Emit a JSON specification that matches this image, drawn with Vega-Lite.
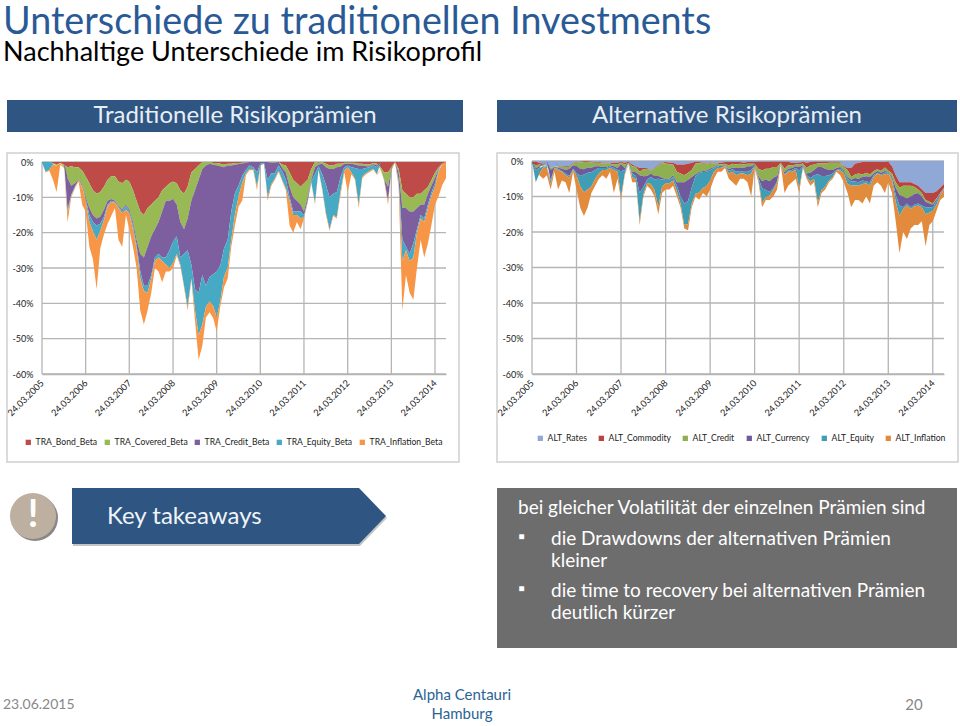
{"$schema":"https://vega.github.io/schema/vega-lite/v6.json","padding":{"left":3,"top":4,"right":0,"bottom":0},"background":"white","config":{"view":{"stroke":null},"font":"Lato"},
"title":{"text":"Unterschiede zu traditionellen Investments","subtitle":"Nachhaltige Unterschiede im Risikoprofil","anchor":"start","frame":"group","font":"Lato","fontWeight":"normal","fontSize":37.7,"color":"#2a5a96","subtitleFont":"Lato","subtitleFontSize":27,"subtitleColor":"#000000","subtitlePadding":-2,"offset":34,"dx":-4},
"bounds":"flush","columns":2,"spacing":{"row":21,"column":34},
"resolve":{"scale":{"color":"independent","x":"independent","y":"independent"},"legend":{"color":"independent"},"axis":{"x":"independent","y":"independent"}},
"concat":[
  {"width":456,"height":32,"view":{"fill":"#2f5583","stroke":null},"data":{"values":[{"t":"Traditionelle Risikoprämien"}]},"mark":{"type":"text","fontSize":24,"color":"#e8eef5","font":"Lato"},"encoding":{"text":{"field":"t"}}},
  {"width":460,"height":32,"view":{"fill":"#2f5583","stroke":null},"data":{"values":[{"t":"Alternative Risikoprämien"}]},"mark":{"type":"text","fontSize":24,"color":"#e8eef5","font":"Lato"},"encoding":{"text":{"field":"t"}}},
  {"width":452,"height":309,"view":{"stroke":"#cfcfcf","strokeWidth":1.5},"layer":[
   {"data":{"values":[{"date":"2005-03-24","top":0,"bottom":-60},{"date":"2006-03-24","top":0,"bottom":-60},{"date":"2007-03-24","top":0,"bottom":-60},{"date":"2008-03-24","top":0,"bottom":-60},{"date":"2009-03-24","top":0,"bottom":-60},{"date":"2010-03-24","top":0,"bottom":-60},{"date":"2011-03-24","top":0,"bottom":-60},{"date":"2012-03-24","top":0,"bottom":-60},{"date":"2013-03-24","top":0,"bottom":-60},{"date":"2014-03-24","top":0,"bottom":-60}]},"mark":{"type":"rule","color":"#b5b5b5","strokeWidth":1.3},"encoding":{"x":{"field":"date","type":"temporal"},"y":{"field":"top","type":"quantitative"},"y2":{"field":"bottom"}}},
   {"data":{"values":[{"pct":0,"from":"2005-03-24","to":"2014-06-24"},{"pct":-10,"from":"2005-03-24","to":"2014-06-24"},{"pct":-20,"from":"2005-03-24","to":"2014-06-24"},{"pct":-30,"from":"2005-03-24","to":"2014-06-24"},{"pct":-40,"from":"2005-03-24","to":"2014-06-24"},{"pct":-50,"from":"2005-03-24","to":"2014-06-24"},{"pct":-60,"from":"2005-03-24","to":"2014-06-24"}]},"mark":{"type":"rule","color":"#b5b5b5","strokeWidth":1.3},"encoding":{"x":{"field":"from","type":"temporal"},"x2":{"field":"to"},"y":{"field":"pct","type":"quantitative"}}},
   {"data":{"values":[
{"date":"2005-03-24","TRA_Bond_Beta":0,"TRA_Covered_Beta":0,"TRA_Credit_Beta":0,"TRA_Equity_Beta":-0.2,"TRA_Inflation_Beta":0},
{"date":"2005-04-24","TRA_Bond_Beta":0,"TRA_Covered_Beta":0,"TRA_Credit_Beta":0,"TRA_Equity_Beta":-2.8,"TRA_Inflation_Beta":-0.2},
{"date":"2005-05-24","TRA_Bond_Beta":0,"TRA_Covered_Beta":0,"TRA_Credit_Beta":0,"TRA_Equity_Beta":-2.2,"TRA_Inflation_Beta":-0.3},
{"date":"2005-06-24","TRA_Bond_Beta":-0.3,"TRA_Covered_Beta":-0.2,"TRA_Credit_Beta":0,"TRA_Equity_Beta":-0.3,"TRA_Inflation_Beta":-4.2},
{"date":"2005-07-24","TRA_Bond_Beta":-0.8,"TRA_Covered_Beta":-0.2,"TRA_Credit_Beta":0,"TRA_Equity_Beta":0,"TRA_Inflation_Beta":-7.5},
{"date":"2005-08-24","TRA_Bond_Beta":-0.3,"TRA_Covered_Beta":0,"TRA_Credit_Beta":0,"TRA_Equity_Beta":0,"TRA_Inflation_Beta":-0.5},
{"date":"2005-09-24","TRA_Bond_Beta":-0.8,"TRA_Covered_Beta":-0.7,"TRA_Credit_Beta":0,"TRA_Equity_Beta":0,"TRA_Inflation_Beta":-0.2},
{"date":"2005-10-24","TRA_Bond_Beta":-1.5,"TRA_Covered_Beta":-3,"TRA_Credit_Beta":-9,"TRA_Equity_Beta":-1,"TRA_Inflation_Beta":-2.5},
{"date":"2005-11-24","TRA_Bond_Beta":-1.2,"TRA_Covered_Beta":-5.5,"TRA_Credit_Beta":-2.5,"TRA_Equity_Beta":-0.3,"TRA_Inflation_Beta":-0.5},
{"date":"2005-12-24","TRA_Bond_Beta":-1.5,"TRA_Covered_Beta":-4.5,"TRA_Credit_Beta":-1,"TRA_Equity_Beta":-0.2,"TRA_Inflation_Beta":-0.3},
{"date":"2006-01-24","TRA_Bond_Beta":-1.5,"TRA_Covered_Beta":-3.5,"TRA_Credit_Beta":-0.2,"TRA_Equity_Beta":0,"TRA_Inflation_Beta":-0.3},
{"date":"2006-02-24","TRA_Bond_Beta":-2.5,"TRA_Covered_Beta":-4,"TRA_Credit_Beta":-0.5,"TRA_Equity_Beta":-0.2,"TRA_Inflation_Beta":-5},
{"date":"2006-03-24","TRA_Bond_Beta":-4,"TRA_Covered_Beta":-6,"TRA_Credit_Beta":-0.5,"TRA_Equity_Beta":-0.5,"TRA_Inflation_Beta":-3},
{"date":"2006-04-24","TRA_Bond_Beta":-6,"TRA_Covered_Beta":-7,"TRA_Credit_Beta":-2,"TRA_Equity_Beta":-2,"TRA_Inflation_Beta":-7},
{"date":"2006-05-24","TRA_Bond_Beta":-8,"TRA_Covered_Beta":-7,"TRA_Credit_Beta":-2,"TRA_Equity_Beta":-2.5,"TRA_Inflation_Beta":-8},
{"date":"2006-06-24","TRA_Bond_Beta":-9,"TRA_Covered_Beta":-7,"TRA_Credit_Beta":-2,"TRA_Equity_Beta":-4,"TRA_Inflation_Beta":-14},
{"date":"2006-07-24","TRA_Bond_Beta":-8.5,"TRA_Covered_Beta":-7,"TRA_Credit_Beta":-2,"TRA_Equity_Beta":-2,"TRA_Inflation_Beta":-5},
{"date":"2006-08-24","TRA_Bond_Beta":-7,"TRA_Covered_Beta":-6.5,"TRA_Credit_Beta":-2,"TRA_Equity_Beta":-1,"TRA_Inflation_Beta":-4},
{"date":"2006-09-24","TRA_Bond_Beta":-5,"TRA_Covered_Beta":-6,"TRA_Credit_Beta":-1,"TRA_Equity_Beta":-0.5,"TRA_Inflation_Beta":-5},
{"date":"2006-10-24","TRA_Bond_Beta":-4,"TRA_Covered_Beta":-6.5,"TRA_Credit_Beta":-0.5,"TRA_Equity_Beta":-0.3,"TRA_Inflation_Beta":-4},
{"date":"2006-11-24","TRA_Bond_Beta":-4,"TRA_Covered_Beta":-7,"TRA_Credit_Beta":-0.3,"TRA_Equity_Beta":-0.2,"TRA_Inflation_Beta":-1.5},
{"date":"2006-12-24","TRA_Bond_Beta":-5.5,"TRA_Covered_Beta":-7,"TRA_Credit_Beta":-0.3,"TRA_Equity_Beta":-0.3,"TRA_Inflation_Beta":-9},
{"date":"2007-01-24","TRA_Bond_Beta":-6,"TRA_Covered_Beta":-7.5,"TRA_Credit_Beta":-0.5,"TRA_Equity_Beta":-0.5,"TRA_Inflation_Beta":-9.5},
{"date":"2007-02-24","TRA_Bond_Beta":-5,"TRA_Covered_Beta":-7,"TRA_Credit_Beta":-0.5,"TRA_Equity_Beta":-1,"TRA_Inflation_Beta":-1.5},
{"date":"2007-03-24","TRA_Bond_Beta":-5.5,"TRA_Covered_Beta":-8,"TRA_Credit_Beta":-0.5,"TRA_Equity_Beta":-0.5,"TRA_Inflation_Beta":-4.5},
{"date":"2007-04-24","TRA_Bond_Beta":-8,"TRA_Covered_Beta":-9,"TRA_Credit_Beta":-1,"TRA_Equity_Beta":-1,"TRA_Inflation_Beta":-5},
{"date":"2007-05-24","TRA_Bond_Beta":-11,"TRA_Covered_Beta":-11,"TRA_Credit_Beta":-1.5,"TRA_Equity_Beta":-1,"TRA_Inflation_Beta":-5.5},
{"date":"2007-06-24","TRA_Bond_Beta":-14,"TRA_Covered_Beta":-12,"TRA_Credit_Beta":-5,"TRA_Equity_Beta":-2,"TRA_Inflation_Beta":-9},
{"date":"2007-07-24","TRA_Bond_Beta":-15,"TRA_Covered_Beta":-12,"TRA_Credit_Beta":-8,"TRA_Equity_Beta":-1.5,"TRA_Inflation_Beta":-9.5},
{"date":"2007-08-24","TRA_Bond_Beta":-13,"TRA_Covered_Beta":-11,"TRA_Credit_Beta":-11,"TRA_Equity_Beta":-2,"TRA_Inflation_Beta":-5},
{"date":"2007-09-24","TRA_Bond_Beta":-12,"TRA_Covered_Beta":-9,"TRA_Credit_Beta":-11,"TRA_Equity_Beta":-1,"TRA_Inflation_Beta":-4},
{"date":"2007-10-24","TRA_Bond_Beta":-11,"TRA_Covered_Beta":-8,"TRA_Credit_Beta":-8,"TRA_Equity_Beta":-1,"TRA_Inflation_Beta":-2},
{"date":"2007-11-24","TRA_Bond_Beta":-10,"TRA_Covered_Beta":-7,"TRA_Credit_Beta":-9,"TRA_Equity_Beta":-1,"TRA_Inflation_Beta":-4},
{"date":"2007-12-24","TRA_Bond_Beta":-8,"TRA_Covered_Beta":-6,"TRA_Credit_Beta":-13,"TRA_Equity_Beta":-1,"TRA_Inflation_Beta":-6},
{"date":"2008-01-24","TRA_Bond_Beta":-7,"TRA_Covered_Beta":-4,"TRA_Credit_Beta":-16,"TRA_Equity_Beta":-2,"TRA_Inflation_Beta":-2},
{"date":"2008-02-24","TRA_Bond_Beta":-6,"TRA_Covered_Beta":-5,"TRA_Credit_Beta":-14,"TRA_Equity_Beta":-5,"TRA_Inflation_Beta":-1},
{"date":"2008-03-24","TRA_Bond_Beta":-5.5,"TRA_Covered_Beta":-5,"TRA_Credit_Beta":-12,"TRA_Equity_Beta":-6,"TRA_Inflation_Beta":-1.5},
{"date":"2008-04-24","TRA_Bond_Beta":-6,"TRA_Covered_Beta":-6,"TRA_Credit_Beta":-9,"TRA_Equity_Beta":-5,"TRA_Inflation_Beta":-0.5},
{"date":"2008-05-24","TRA_Bond_Beta":-8,"TRA_Covered_Beta":-9,"TRA_Credit_Beta":-10,"TRA_Equity_Beta":-2,"TRA_Inflation_Beta":-0.5},
{"date":"2008-06-24","TRA_Bond_Beta":-9,"TRA_Covered_Beta":-10,"TRA_Credit_Beta":-7,"TRA_Equity_Beta":-9,"TRA_Inflation_Beta":-0.5},
{"date":"2008-07-24","TRA_Bond_Beta":-7,"TRA_Covered_Beta":-9,"TRA_Credit_Beta":-9,"TRA_Equity_Beta":-16,"TRA_Inflation_Beta":-1},
{"date":"2008-08-24","TRA_Bond_Beta":-3,"TRA_Covered_Beta":-8,"TRA_Credit_Beta":-18,"TRA_Equity_Beta":-4,"TRA_Inflation_Beta":-0.3},
{"date":"2008-09-24","TRA_Bond_Beta":-2,"TRA_Covered_Beta":-6,"TRA_Credit_Beta":-28,"TRA_Equity_Beta":-6,"TRA_Inflation_Beta":-3},
{"date":"2008-10-24","TRA_Bond_Beta":-1,"TRA_Covered_Beta":-4,"TRA_Credit_Beta":-32,"TRA_Equity_Beta":-12,"TRA_Inflation_Beta":-7},
{"date":"2008-11-24","TRA_Bond_Beta":0,"TRA_Covered_Beta":-2,"TRA_Credit_Beta":-30,"TRA_Equity_Beta":-14,"TRA_Inflation_Beta":-6},
{"date":"2008-12-24","TRA_Bond_Beta":0,"TRA_Covered_Beta":-1,"TRA_Credit_Beta":-34,"TRA_Equity_Beta":-6,"TRA_Inflation_Beta":-3},
{"date":"2009-01-24","TRA_Bond_Beta":0,"TRA_Covered_Beta":-0.5,"TRA_Credit_Beta":-32,"TRA_Equity_Beta":-7,"TRA_Inflation_Beta":-3},
{"date":"2009-02-24","TRA_Bond_Beta":-0.3,"TRA_Covered_Beta":-0.5,"TRA_Credit_Beta":-31,"TRA_Equity_Beta":-9,"TRA_Inflation_Beta":-3.5},
{"date":"2009-03-24","TRA_Bond_Beta":-0.3,"TRA_Covered_Beta":-0.7,"TRA_Credit_Beta":-30,"TRA_Equity_Beta":-13,"TRA_Inflation_Beta":-4},
{"date":"2009-04-24","TRA_Bond_Beta":-0.5,"TRA_Covered_Beta":-0.7,"TRA_Credit_Beta":-28,"TRA_Equity_Beta":-10,"TRA_Inflation_Beta":-1.5},
{"date":"2009-05-24","TRA_Bond_Beta":-0.8,"TRA_Covered_Beta":-0.7,"TRA_Credit_Beta":-23,"TRA_Equity_Beta":-8,"TRA_Inflation_Beta":-3},
{"date":"2009-06-24","TRA_Bond_Beta":-0.5,"TRA_Covered_Beta":-0.5,"TRA_Credit_Beta":-21,"TRA_Equity_Beta":-8,"TRA_Inflation_Beta":-3},
{"date":"2009-07-24","TRA_Bond_Beta":-0.5,"TRA_Covered_Beta":-0.5,"TRA_Credit_Beta":-13,"TRA_Equity_Beta":-8,"TRA_Inflation_Beta":-2},
{"date":"2009-08-24","TRA_Bond_Beta":-0.3,"TRA_Covered_Beta":-0.5,"TRA_Credit_Beta":-8,"TRA_Equity_Beta":-6,"TRA_Inflation_Beta":-3},
{"date":"2009-09-24","TRA_Bond_Beta":-0.3,"TRA_Covered_Beta":-0.3,"TRA_Credit_Beta":-6,"TRA_Equity_Beta":-3,"TRA_Inflation_Beta":-3},
{"date":"2009-10-24","TRA_Bond_Beta":-0.2,"TRA_Covered_Beta":-0.2,"TRA_Credit_Beta":-3.5,"TRA_Equity_Beta":-2,"TRA_Inflation_Beta":-5},
{"date":"2009-11-24","TRA_Bond_Beta":-0.1,"TRA_Covered_Beta":-0.1,"TRA_Credit_Beta":-2,"TRA_Equity_Beta":-1,"TRA_Inflation_Beta":-0.5},
{"date":"2009-12-24","TRA_Bond_Beta":0,"TRA_Covered_Beta":0,"TRA_Credit_Beta":-1,"TRA_Equity_Beta":-1,"TRA_Inflation_Beta":-0.3},
{"date":"2010-01-24","TRA_Bond_Beta":0,"TRA_Covered_Beta":0,"TRA_Credit_Beta":-1.5,"TRA_Equity_Beta":-0.5,"TRA_Inflation_Beta":-0.3},
{"date":"2010-02-24","TRA_Bond_Beta":0,"TRA_Covered_Beta":0,"TRA_Credit_Beta":-3,"TRA_Equity_Beta":-4,"TRA_Inflation_Beta":-1},
{"date":"2010-03-24","TRA_Bond_Beta":0,"TRA_Covered_Beta":0,"TRA_Credit_Beta":-0.5,"TRA_Equity_Beta":-0.5,"TRA_Inflation_Beta":-0.2},
{"date":"2010-04-24","TRA_Bond_Beta":0,"TRA_Covered_Beta":0,"TRA_Credit_Beta":-0.3,"TRA_Equity_Beta":-0.2,"TRA_Inflation_Beta":0},
{"date":"2010-05-24","TRA_Bond_Beta":0,"TRA_Covered_Beta":0,"TRA_Credit_Beta":-5,"TRA_Equity_Beta":-5,"TRA_Inflation_Beta":-1},
{"date":"2010-06-24","TRA_Bond_Beta":0,"TRA_Covered_Beta":-0.2,"TRA_Credit_Beta":-3,"TRA_Equity_Beta":-3,"TRA_Inflation_Beta":-0.5},
{"date":"2010-07-24","TRA_Bond_Beta":0,"TRA_Covered_Beta":-0.2,"TRA_Credit_Beta":-3,"TRA_Equity_Beta":-1.5,"TRA_Inflation_Beta":-0.3},
{"date":"2010-08-24","TRA_Bond_Beta":0,"TRA_Covered_Beta":0,"TRA_Credit_Beta":-1,"TRA_Equity_Beta":-1.5,"TRA_Inflation_Beta":-0.3},
{"date":"2010-09-24","TRA_Bond_Beta":-0.7,"TRA_Covered_Beta":-1,"TRA_Credit_Beta":-1,"TRA_Equity_Beta":-2.5,"TRA_Inflation_Beta":-0.3},
{"date":"2010-10-24","TRA_Bond_Beta":-1,"TRA_Covered_Beta":-2,"TRA_Credit_Beta":-2,"TRA_Equity_Beta":-2.5,"TRA_Inflation_Beta":-0.5},
{"date":"2010-11-24","TRA_Bond_Beta":-3,"TRA_Covered_Beta":-4,"TRA_Credit_Beta":-3,"TRA_Equity_Beta":-1,"TRA_Inflation_Beta":-7},
{"date":"2010-12-24","TRA_Bond_Beta":-5,"TRA_Covered_Beta":-5,"TRA_Credit_Beta":-4,"TRA_Equity_Beta":-1,"TRA_Inflation_Beta":-5},
{"date":"2011-01-24","TRA_Bond_Beta":-6,"TRA_Covered_Beta":-5,"TRA_Credit_Beta":-3,"TRA_Equity_Beta":-1,"TRA_Inflation_Beta":-2},
{"date":"2011-02-24","TRA_Bond_Beta":-7,"TRA_Covered_Beta":-5,"TRA_Credit_Beta":-2,"TRA_Equity_Beta":-2,"TRA_Inflation_Beta":-3},
{"date":"2011-03-24","TRA_Bond_Beta":-6,"TRA_Covered_Beta":-8,"TRA_Credit_Beta":-1,"TRA_Equity_Beta":-0.5,"TRA_Inflation_Beta":-0.5},
{"date":"2011-04-24","TRA_Bond_Beta":-5,"TRA_Covered_Beta":-5,"TRA_Credit_Beta":-1,"TRA_Equity_Beta":-0.3,"TRA_Inflation_Beta":-0.2},
{"date":"2011-05-24","TRA_Bond_Beta":-2,"TRA_Covered_Beta":-3,"TRA_Credit_Beta":-0.5,"TRA_Equity_Beta":-0.2,"TRA_Inflation_Beta":-0.1},
{"date":"2011-06-24","TRA_Bond_Beta":0,"TRA_Covered_Beta":-1.5,"TRA_Credit_Beta":-2,"TRA_Equity_Beta":-8,"TRA_Inflation_Beta":-0.5},
{"date":"2011-07-24","TRA_Bond_Beta":-0.2,"TRA_Covered_Beta":-0.5,"TRA_Credit_Beta":-0.5,"TRA_Equity_Beta":-1,"TRA_Inflation_Beta":-0.1},
{"date":"2011-08-24","TRA_Bond_Beta":0,"TRA_Covered_Beta":-0.5,"TRA_Credit_Beta":-3,"TRA_Equity_Beta":-4,"TRA_Inflation_Beta":-0.5},
{"date":"2011-09-24","TRA_Bond_Beta":-0.5,"TRA_Covered_Beta":-1,"TRA_Credit_Beta":-5,"TRA_Equity_Beta":-8,"TRA_Inflation_Beta":-0.5},
{"date":"2011-10-24","TRA_Bond_Beta":-1,"TRA_Covered_Beta":-1,"TRA_Credit_Beta":-8,"TRA_Equity_Beta":-9,"TRA_Inflation_Beta":-0.5},
{"date":"2011-11-24","TRA_Bond_Beta":-1,"TRA_Covered_Beta":-1,"TRA_Credit_Beta":-7,"TRA_Equity_Beta":-6,"TRA_Inflation_Beta":-0.3},
{"date":"2011-12-24","TRA_Bond_Beta":-0.5,"TRA_Covered_Beta":-1,"TRA_Credit_Beta":-7,"TRA_Equity_Beta":-7,"TRA_Inflation_Beta":-0.5},
{"date":"2012-01-24","TRA_Bond_Beta":-0.5,"TRA_Covered_Beta":-0.8,"TRA_Credit_Beta":-3,"TRA_Equity_Beta":-4,"TRA_Inflation_Beta":-1},
{"date":"2012-02-24","TRA_Bond_Beta":-0.2,"TRA_Covered_Beta":-0.3,"TRA_Credit_Beta":-1,"TRA_Equity_Beta":-1,"TRA_Inflation_Beta":-0.5},
{"date":"2012-03-24","TRA_Bond_Beta":-0.2,"TRA_Covered_Beta":-0.3,"TRA_Credit_Beta":-0.5,"TRA_Equity_Beta":-0.5,"TRA_Inflation_Beta":-7},
{"date":"2012-04-24","TRA_Bond_Beta":-0.2,"TRA_Covered_Beta":-0.3,"TRA_Credit_Beta":-1,"TRA_Equity_Beta":-1.5,"TRA_Inflation_Beta":-0.5},
{"date":"2012-05-24","TRA_Bond_Beta":-0.2,"TRA_Covered_Beta":-0.5,"TRA_Credit_Beta":-1,"TRA_Equity_Beta":-3,"TRA_Inflation_Beta":-0.3},
{"date":"2012-06-24","TRA_Bond_Beta":-0.5,"TRA_Covered_Beta":-0.5,"TRA_Credit_Beta":-1,"TRA_Equity_Beta":-10,"TRA_Inflation_Beta":-1},
{"date":"2012-07-24","TRA_Bond_Beta":-0.5,"TRA_Covered_Beta":-0.5,"TRA_Credit_Beta":-1,"TRA_Equity_Beta":-2,"TRA_Inflation_Beta":-0.5},
{"date":"2012-08-24","TRA_Bond_Beta":-0.7,"TRA_Covered_Beta":-0.5,"TRA_Credit_Beta":-0.5,"TRA_Equity_Beta":-1.5,"TRA_Inflation_Beta":-0.3},
{"date":"2012-09-24","TRA_Bond_Beta":-0.7,"TRA_Covered_Beta":-0.5,"TRA_Credit_Beta":-0.3,"TRA_Equity_Beta":-1,"TRA_Inflation_Beta":-0.3},
{"date":"2012-10-24","TRA_Bond_Beta":-0.3,"TRA_Covered_Beta":-0.3,"TRA_Credit_Beta":-0.3,"TRA_Equity_Beta":-1,"TRA_Inflation_Beta":-0.3},
{"date":"2012-11-24","TRA_Bond_Beta":-0.5,"TRA_Covered_Beta":-0.5,"TRA_Credit_Beta":-0.5,"TRA_Equity_Beta":-2,"TRA_Inflation_Beta":-0.2},
{"date":"2012-12-24","TRA_Bond_Beta":-1.5,"TRA_Covered_Beta":-0.5,"TRA_Credit_Beta":0,"TRA_Equity_Beta":0,"TRA_Inflation_Beta":-0.2},
{"date":"2013-01-24","TRA_Bond_Beta":-3,"TRA_Covered_Beta":-2,"TRA_Credit_Beta":-0.2,"TRA_Equity_Beta":-0.1,"TRA_Inflation_Beta":-0.2},
{"date":"2013-02-24","TRA_Bond_Beta":-3,"TRA_Covered_Beta":-4,"TRA_Credit_Beta":-4,"TRA_Equity_Beta":-0.2,"TRA_Inflation_Beta":-1},
{"date":"2013-03-24","TRA_Bond_Beta":-1.5,"TRA_Covered_Beta":-0.5,"TRA_Credit_Beta":-0.2,"TRA_Equity_Beta":0,"TRA_Inflation_Beta":-0.2},
{"date":"2013-04-24","TRA_Bond_Beta":0,"TRA_Covered_Beta":0,"TRA_Credit_Beta":0,"TRA_Equity_Beta":0,"TRA_Inflation_Beta":-0.2},
{"date":"2013-05-24","TRA_Bond_Beta":-2,"TRA_Covered_Beta":-1,"TRA_Credit_Beta":-2,"TRA_Equity_Beta":-1,"TRA_Inflation_Beta":-1},
{"date":"2013-06-24","TRA_Bond_Beta":-8,"TRA_Covered_Beta":-5,"TRA_Credit_Beta":-9,"TRA_Equity_Beta":-6,"TRA_Inflation_Beta":-14},
{"date":"2013-07-24","TRA_Bond_Beta":-9,"TRA_Covered_Beta":-4,"TRA_Credit_Beta":-11,"TRA_Equity_Beta":-1,"TRA_Inflation_Beta":-7},
{"date":"2013-08-24","TRA_Bond_Beta":-10,"TRA_Covered_Beta":-4,"TRA_Credit_Beta":-12,"TRA_Equity_Beta":-2,"TRA_Inflation_Beta":-9},
{"date":"2013-09-24","TRA_Bond_Beta":-10,"TRA_Covered_Beta":-4,"TRA_Credit_Beta":-9,"TRA_Equity_Beta":-4,"TRA_Inflation_Beta":-12},
{"date":"2013-10-24","TRA_Bond_Beta":-9,"TRA_Covered_Beta":-4,"TRA_Credit_Beta":-6,"TRA_Equity_Beta":-1,"TRA_Inflation_Beta":-10},
{"date":"2013-11-24","TRA_Bond_Beta":-9,"TRA_Covered_Beta":-3,"TRA_Credit_Beta":-3,"TRA_Equity_Beta":-1,"TRA_Inflation_Beta":-6},
{"date":"2013-12-24","TRA_Bond_Beta":-8,"TRA_Covered_Beta":-4,"TRA_Credit_Beta":-4,"TRA_Equity_Beta":-1,"TRA_Inflation_Beta":-10},
{"date":"2014-01-24","TRA_Bond_Beta":-7,"TRA_Covered_Beta":-2,"TRA_Credit_Beta":-3,"TRA_Equity_Beta":-1,"TRA_Inflation_Beta":-10},
{"date":"2014-02-24","TRA_Bond_Beta":-5,"TRA_Covered_Beta":-1.5,"TRA_Credit_Beta":-2,"TRA_Equity_Beta":-1,"TRA_Inflation_Beta":-8},
{"date":"2014-03-24","TRA_Bond_Beta":-3,"TRA_Covered_Beta":-1.5,"TRA_Credit_Beta":-1.5,"TRA_Equity_Beta":-1,"TRA_Inflation_Beta":-5},
{"date":"2014-04-24","TRA_Bond_Beta":-1.5,"TRA_Covered_Beta":-0.3,"TRA_Credit_Beta":-0.3,"TRA_Equity_Beta":-0.5,"TRA_Inflation_Beta":-7},
{"date":"2014-05-24","TRA_Bond_Beta":-0.5,"TRA_Covered_Beta":0,"TRA_Credit_Beta":0,"TRA_Equity_Beta":0,"TRA_Inflation_Beta":-6},
{"date":"2014-06-24","TRA_Bond_Beta":0,"TRA_Covered_Beta":0,"TRA_Credit_Beta":0,"TRA_Equity_Beta":0,"TRA_Inflation_Beta":-4.5}
]},
   "transform":[{"fold":["TRA_Bond_Beta","TRA_Covered_Beta","TRA_Credit_Beta","TRA_Equity_Beta","TRA_Inflation_Beta"],"as":["series","value"]},{"calculate":"indexof(['TRA_Bond_Beta','TRA_Covered_Beta','TRA_Credit_Beta','TRA_Equity_Beta','TRA_Inflation_Beta'],datum.series)","as":"ord"}],
   "mark":{"type":"area","clip":false},
   "encoding":{
    "x":{"field":"date","type":"temporal","title":null,"scale":{"type":"utc","domain":["2005-03-24","2014-06-24"],"range":[35,439]},
     "axis":{"values":[{"year":2005,"month":3,"date":24,"utc":true},{"year":2006,"month":3,"date":24,"utc":true},{"year":2007,"month":3,"date":24,"utc":true},{"year":2008,"month":3,"date":24,"utc":true},{"year":2009,"month":3,"date":24,"utc":true},{"year":2010,"month":3,"date":24,"utc":true},{"year":2011,"month":3,"date":24,"utc":true},{"year":2012,"month":3,"date":24,"utc":true},{"year":2013,"month":3,"date":24,"utc":true},{"year":2014,"month":3,"date":24,"utc":true}],"labelExpr":"utcFormat(datum.value,'%d.%m.%Y')","labelAngle":-45,"labelAlign":"right","labelBaseline":"middle","labelFontSize":9.2,"labelFont":"Lato","labelColor":"#222","labelOverlap":false,"labelFlush":false,"labelPadding":7,"ticks":false,"grid":false,"domainColor":"#b5b5b5","domainWidth":1.3,"offset":-88}},
    "y":{"field":"value","type":"quantitative","stack":"zero","title":null,"scale":{"domain":[-60,0],"range":[221,9],"nice":false},
     "axis":{"values":[0,-10,-20,-30,-40,-50,-60],"labelExpr":"datum.value+'%'","labelFontSize":9,"labelFont":"Lato","labelColor":"#222","ticks":false,"domain":false,"grid":false,"labelPadding":9,"offset":-35}},
    "color":{"field":"series","type":"nominal","scale":{"domain":["TRA_Bond_Beta","TRA_Covered_Beta","TRA_Credit_Beta","TRA_Equity_Beta","TRA_Inflation_Beta"],"range":["#be4b48","#98b954","#7d5fa0","#46aac5","#f79646"]},
     "legend":{"orient":"none","legendX":17,"legendY":285,"direction":"horizontal","columns":5,"title":null,"symbolType":"square","symbolSize":28,"labelFontSize":8.6,"labelFont":"Lato","labelColor":"#222","columnPadding":5,"labelOffset":3}},
    "order":{"field":"ord"}}}
  ]},
  {"width":461,"height":309,"view":{"stroke":"#cfcfcf","strokeWidth":1.5},"layer":[
   {"data":{"values":[{"date":"2005-03-24","top":0,"bottom":-60},{"date":"2006-03-24","top":0,"bottom":-60},{"date":"2007-03-24","top":0,"bottom":-60},{"date":"2008-03-24","top":0,"bottom":-60},{"date":"2009-03-24","top":0,"bottom":-60},{"date":"2010-03-24","top":0,"bottom":-60},{"date":"2011-03-24","top":0,"bottom":-60},{"date":"2012-03-24","top":0,"bottom":-60},{"date":"2013-03-24","top":0,"bottom":-60},{"date":"2014-03-24","top":0,"bottom":-60}]},"mark":{"type":"rule","color":"#b5b5b5","strokeWidth":1.3},"encoding":{"x":{"field":"date","type":"temporal"},"y":{"field":"top","type":"quantitative"},"y2":{"field":"bottom"}}},
   {"data":{"values":[{"pct":0,"from":"2005-03-24","to":"2014-06-24"},{"pct":-10,"from":"2005-03-24","to":"2014-06-24"},{"pct":-20,"from":"2005-03-24","to":"2014-06-24"},{"pct":-30,"from":"2005-03-24","to":"2014-06-24"},{"pct":-40,"from":"2005-03-24","to":"2014-06-24"},{"pct":-50,"from":"2005-03-24","to":"2014-06-24"},{"pct":-60,"from":"2005-03-24","to":"2014-06-24"}]},"mark":{"type":"rule","color":"#b5b5b5","strokeWidth":1.3},"encoding":{"x":{"field":"from","type":"temporal"},"x2":{"field":"to"},"y":{"field":"pct","type":"quantitative"}}},
   {"data":{"values":[
{"date":"2005-03-24","ALT_Rates":-0.3,"ALT_Commodity":-0.5,"ALT_Credit":-0.2,"ALT_Currency":0,"ALT_Equity":0,"ALT_Inflation":0},
{"date":"2005-04-24","ALT_Rates":-0.2,"ALT_Commodity":-1,"ALT_Credit":-0.8,"ALT_Currency":-0.5,"ALT_Equity":-3.5,"ALT_Inflation":0},
{"date":"2005-05-24","ALT_Rates":-0.5,"ALT_Commodity":-0.5,"ALT_Credit":-0.5,"ALT_Currency":-0.5,"ALT_Equity":-1.5,"ALT_Inflation":-0.5},
{"date":"2005-06-24","ALT_Rates":-1,"ALT_Commodity":-0.2,"ALT_Credit":-0.3,"ALT_Currency":0,"ALT_Equity":-0.3,"ALT_Inflation":-3.2},
{"date":"2005-07-24","ALT_Rates":-1.5,"ALT_Commodity":0,"ALT_Credit":-0.2,"ALT_Currency":0,"ALT_Equity":-0.3,"ALT_Inflation":-2},
{"date":"2005-08-24","ALT_Rates":-2,"ALT_Commodity":0,"ALT_Credit":-0.5,"ALT_Currency":-3,"ALT_Equity":-1,"ALT_Inflation":-1.5},
{"date":"2005-09-24","ALT_Rates":-1.5,"ALT_Commodity":0,"ALT_Credit":-0.2,"ALT_Currency":-0.2,"ALT_Equity":-0.1,"ALT_Inflation":-1},
{"date":"2005-10-24","ALT_Rates":-1.5,"ALT_Commodity":-0.1,"ALT_Credit":-0.3,"ALT_Currency":-0.3,"ALT_Equity":-0.3,"ALT_Inflation":-5.5},
{"date":"2005-11-24","ALT_Rates":-1.5,"ALT_Commodity":-0.1,"ALT_Credit":-0.5,"ALT_Currency":-0.7,"ALT_Equity":-0.2,"ALT_Inflation":-2.5},
{"date":"2005-12-24","ALT_Rates":-1.5,"ALT_Commodity":-0.2,"ALT_Credit":-0.8,"ALT_Currency":-1,"ALT_Equity":-0.5,"ALT_Inflation":-2},
{"date":"2006-01-24","ALT_Rates":-1.5,"ALT_Commodity":-0.2,"ALT_Credit":-0.5,"ALT_Currency":-2,"ALT_Equity":-0.5,"ALT_Inflation":-4.3},
{"date":"2006-02-24","ALT_Rates":-0.5,"ALT_Commodity":-0.2,"ALT_Credit":-0.5,"ALT_Currency":-1,"ALT_Equity":-0.3,"ALT_Inflation":-0.5},
{"date":"2006-03-24","ALT_Rates":-0.3,"ALT_Commodity":-0.1,"ALT_Credit":-1,"ALT_Currency":-2,"ALT_Equity":-0.6,"ALT_Inflation":-4},
{"date":"2006-04-24","ALT_Rates":-0.2,"ALT_Commodity":-0.2,"ALT_Credit":-1.8,"ALT_Currency":-2,"ALT_Equity":-3,"ALT_Inflation":-6},
{"date":"2006-05-24","ALT_Rates":-0.1,"ALT_Commodity":-0.2,"ALT_Credit":-2,"ALT_Currency":-1.5,"ALT_Equity":-5,"ALT_Inflation":-6.7},
{"date":"2006-06-24","ALT_Rates":-0.1,"ALT_Commodity":-0.2,"ALT_Credit":-1.5,"ALT_Currency":-1.5,"ALT_Equity":-4.7,"ALT_Inflation":-5},
{"date":"2006-07-24","ALT_Rates":-0.2,"ALT_Commodity":-0.2,"ALT_Credit":-1.5,"ALT_Currency":-1.3,"ALT_Equity":-4,"ALT_Inflation":-1.8},
{"date":"2006-08-24","ALT_Rates":-0.3,"ALT_Commodity":-0.2,"ALT_Credit":-1,"ALT_Currency":-1,"ALT_Equity":-2.5,"ALT_Inflation":-2},
{"date":"2006-09-24","ALT_Rates":-0.3,"ALT_Commodity":-0.2,"ALT_Credit":-1,"ALT_Currency":-0.5,"ALT_Equity":-1.5,"ALT_Inflation":-1.5},
{"date":"2006-10-24","ALT_Rates":-0.5,"ALT_Commodity":-0.2,"ALT_Credit":-1,"ALT_Currency":-0.3,"ALT_Equity":-0.5,"ALT_Inflation":-1.5},
{"date":"2006-11-24","ALT_Rates":-0.5,"ALT_Commodity":-0.2,"ALT_Credit":-1,"ALT_Currency":-0.3,"ALT_Equity":-0.5,"ALT_Inflation":-2.5},
{"date":"2006-12-24","ALT_Rates":-0.5,"ALT_Commodity":-0.2,"ALT_Credit":-0.5,"ALT_Currency":-0.3,"ALT_Equity":-0.5,"ALT_Inflation":-1},
{"date":"2007-01-24","ALT_Rates":-0.5,"ALT_Commodity":-0.5,"ALT_Credit":-0.5,"ALT_Currency":-0.5,"ALT_Equity":-0.5,"ALT_Inflation":-6.5},
{"date":"2007-02-24","ALT_Rates":-0.5,"ALT_Commodity":-0.5,"ALT_Credit":-1,"ALT_Currency":-0.5,"ALT_Equity":-0.5,"ALT_Inflation":-2},
{"date":"2007-03-24","ALT_Rates":-0.2,"ALT_Commodity":-0.2,"ALT_Credit":-0.5,"ALT_Currency":-2,"ALT_Equity":-7,"ALT_Inflation":-1},
{"date":"2007-04-24","ALT_Rates":-0.5,"ALT_Commodity":-0.5,"ALT_Credit":-1,"ALT_Currency":-0.5,"ALT_Equity":-1,"ALT_Inflation":-0.5},
{"date":"2007-05-24","ALT_Rates":-0.2,"ALT_Commodity":-0.3,"ALT_Credit":-0.2,"ALT_Currency":0,"ALT_Equity":0,"ALT_Inflation":-0.3},
{"date":"2007-06-24","ALT_Rates":-1,"ALT_Commodity":-0.5,"ALT_Credit":-1.5,"ALT_Currency":-0.5,"ALT_Equity":-1,"ALT_Inflation":-1.5},
{"date":"2007-07-24","ALT_Rates":-1.5,"ALT_Commodity":-0.2,"ALT_Credit":-1.5,"ALT_Currency":-1,"ALT_Equity":-1,"ALT_Inflation":-0.8},
{"date":"2007-08-24","ALT_Rates":-2,"ALT_Commodity":-1,"ALT_Credit":-1,"ALT_Currency":-5,"ALT_Equity":-8,"ALT_Inflation":-1},
{"date":"2007-09-24","ALT_Rates":-2,"ALT_Commodity":-0.3,"ALT_Credit":-2,"ALT_Currency":-3,"ALT_Equity":-2,"ALT_Inflation":-0.7},
{"date":"2007-10-24","ALT_Rates":-2,"ALT_Commodity":-0.2,"ALT_Credit":-2,"ALT_Currency":-1,"ALT_Equity":-1,"ALT_Inflation":-0.8},
{"date":"2007-11-24","ALT_Rates":-2.5,"ALT_Commodity":-0.2,"ALT_Credit":-0.8,"ALT_Currency":-1,"ALT_Equity":-2,"ALT_Inflation":-1.5},
{"date":"2007-12-24","ALT_Rates":-2,"ALT_Commodity":-0.2,"ALT_Credit":-2,"ALT_Currency":-1,"ALT_Equity":-3,"ALT_Inflation":-1.8},
{"date":"2008-01-24","ALT_Rates":-1,"ALT_Commodity":-0.2,"ALT_Credit":-3,"ALT_Currency":-0.8,"ALT_Equity":-8,"ALT_Inflation":-2},
{"date":"2008-02-24","ALT_Rates":-0.5,"ALT_Commodity":-0.2,"ALT_Credit":-4,"ALT_Currency":-0.5,"ALT_Equity":-2,"ALT_Inflation":-1.8},
{"date":"2008-03-24","ALT_Rates":-0.3,"ALT_Commodity":-0.3,"ALT_Credit":-4.5,"ALT_Currency":-0.2,"ALT_Equity":-1,"ALT_Inflation":-1.7},
{"date":"2008-04-24","ALT_Rates":-0.5,"ALT_Commodity":-0.5,"ALT_Credit":-4,"ALT_Currency":-0.3,"ALT_Equity":-1,"ALT_Inflation":-1.7},
{"date":"2008-05-24","ALT_Rates":-0.5,"ALT_Commodity":-0.5,"ALT_Credit":-3,"ALT_Currency":-0.5,"ALT_Equity":-1,"ALT_Inflation":-1.5},
{"date":"2008-06-24","ALT_Rates":-1,"ALT_Commodity":-2,"ALT_Credit":-3,"ALT_Currency":-1,"ALT_Equity":-1.5,"ALT_Inflation":-1.5},
{"date":"2008-07-24","ALT_Rates":-1,"ALT_Commodity":-2.5,"ALT_Credit":-2.5,"ALT_Currency":-4,"ALT_Equity":-2,"ALT_Inflation":-1},
{"date":"2008-08-24","ALT_Rates":-1,"ALT_Commodity":-3,"ALT_Credit":-2,"ALT_Currency":-6,"ALT_Equity":-6,"ALT_Inflation":-1},
{"date":"2008-09-24","ALT_Rates":-0.8,"ALT_Commodity":-2.5,"ALT_Credit":-2,"ALT_Currency":-6,"ALT_Equity":-6.5,"ALT_Inflation":-1.7},
{"date":"2008-10-24","ALT_Rates":-0.5,"ALT_Commodity":-2,"ALT_Credit":-2,"ALT_Currency":-3,"ALT_Equity":-4.5,"ALT_Inflation":-1},
{"date":"2008-11-24","ALT_Rates":-0.2,"ALT_Commodity":-0.5,"ALT_Credit":-3,"ALT_Currency":-0.5,"ALT_Equity":-5,"ALT_Inflation":-0.8},
{"date":"2008-12-24","ALT_Rates":-0.3,"ALT_Commodity":-0.3,"ALT_Credit":-2.5,"ALT_Currency":-0.3,"ALT_Equity":-5.5,"ALT_Inflation":-2},
{"date":"2009-01-24","ALT_Rates":-0.5,"ALT_Commodity":-0.3,"ALT_Credit":-2,"ALT_Currency":-0.3,"ALT_Equity":-4.5,"ALT_Inflation":-1.4},
{"date":"2009-02-24","ALT_Rates":-0.5,"ALT_Commodity":-0.2,"ALT_Credit":-2,"ALT_Currency":-0.3,"ALT_Equity":-4,"ALT_Inflation":-3},
{"date":"2009-03-24","ALT_Rates":-0.5,"ALT_Commodity":-0.2,"ALT_Credit":-1.5,"ALT_Currency":-0.3,"ALT_Equity":-3,"ALT_Inflation":-2.5},
{"date":"2009-04-24","ALT_Rates":-0.5,"ALT_Commodity":-0.2,"ALT_Credit":-1,"ALT_Currency":-0.3,"ALT_Equity":-1,"ALT_Inflation":-2},
{"date":"2009-05-24","ALT_Rates":-0.5,"ALT_Commodity":-0.2,"ALT_Credit":-0.5,"ALT_Currency":-0.3,"ALT_Equity":-0.5,"ALT_Inflation":-1},
{"date":"2009-06-24","ALT_Rates":-0.5,"ALT_Commodity":-0.5,"ALT_Credit":-0.5,"ALT_Currency":-0.3,"ALT_Equity":-0.2,"ALT_Inflation":-1},
{"date":"2009-07-24","ALT_Rates":-0.3,"ALT_Commodity":-0.5,"ALT_Credit":-0.3,"ALT_Currency":-0.2,"ALT_Equity":-0.2,"ALT_Inflation":-0.5},
{"date":"2009-08-24","ALT_Rates":-0.3,"ALT_Commodity":-1,"ALT_Credit":-1,"ALT_Currency":-0.5,"ALT_Equity":-0.7,"ALT_Inflation":-1.5},
{"date":"2009-09-24","ALT_Rates":-0.3,"ALT_Commodity":-0.5,"ALT_Credit":-1,"ALT_Currency":-0.5,"ALT_Equity":-0.7,"ALT_Inflation":-3},
{"date":"2009-10-24","ALT_Rates":-0.3,"ALT_Commodity":-0.7,"ALT_Credit":-1,"ALT_Currency":-1,"ALT_Equity":-1,"ALT_Inflation":-3},
{"date":"2009-11-24","ALT_Rates":-0.3,"ALT_Commodity":-0.5,"ALT_Credit":-1,"ALT_Currency":-1,"ALT_Equity":-0.7,"ALT_Inflation":-1.5},
{"date":"2009-12-24","ALT_Rates":-0.5,"ALT_Commodity":-0.5,"ALT_Credit":-1,"ALT_Currency":-1,"ALT_Equity":-0.5,"ALT_Inflation":-1.5},
{"date":"2010-01-24","ALT_Rates":-0.3,"ALT_Commodity":-0.5,"ALT_Credit":-0.7,"ALT_Currency":-1.5,"ALT_Equity":-1,"ALT_Inflation":-2},
{"date":"2010-02-24","ALT_Rates":-0.3,"ALT_Commodity":-0.5,"ALT_Credit":-0.7,"ALT_Currency":-1,"ALT_Equity":-1,"ALT_Inflation":-6.5},
{"date":"2010-03-24","ALT_Rates":-0.3,"ALT_Commodity":-0.5,"ALT_Credit":-0.2,"ALT_Currency":-0.2,"ALT_Equity":-0.3,"ALT_Inflation":-0.5},
{"date":"2010-04-24","ALT_Rates":-0.2,"ALT_Commodity":-2,"ALT_Credit":-2,"ALT_Currency":-0.5,"ALT_Equity":-0.5,"ALT_Inflation":-0.8},
{"date":"2010-05-24","ALT_Rates":-0.2,"ALT_Commodity":-2.5,"ALT_Credit":-3,"ALT_Currency":-2,"ALT_Equity":-4,"ALT_Inflation":-1.3},
{"date":"2010-06-24","ALT_Rates":-0.2,"ALT_Commodity":-2,"ALT_Credit":-3,"ALT_Currency":-3,"ALT_Equity":-2,"ALT_Inflation":-0.8},
{"date":"2010-07-24","ALT_Rates":-0.2,"ALT_Commodity":-2,"ALT_Credit":-3.5,"ALT_Currency":-3,"ALT_Equity":-1,"ALT_Inflation":-1.3},
{"date":"2010-08-24","ALT_Rates":-0.2,"ALT_Commodity":-1.5,"ALT_Credit":-3,"ALT_Currency":-3,"ALT_Equity":-0.5,"ALT_Inflation":-1.8},
{"date":"2010-09-24","ALT_Rates":-0.2,"ALT_Commodity":-1.5,"ALT_Credit":-2.5,"ALT_Currency":-1.5,"ALT_Equity":-0.5,"ALT_Inflation":-1.8},
{"date":"2010-10-24","ALT_Rates":-0.2,"ALT_Commodity":-0.3,"ALT_Credit":-0.2,"ALT_Currency":-0.1,"ALT_Equity":-0.1,"ALT_Inflation":-0.1},
{"date":"2010-11-24","ALT_Rates":-0.2,"ALT_Commodity":-2,"ALT_Credit":-1,"ALT_Currency":-0.5,"ALT_Equity":-0.3,"ALT_Inflation":-5},
{"date":"2010-12-24","ALT_Rates":-0.2,"ALT_Commodity":-1,"ALT_Credit":-1,"ALT_Currency":-0.5,"ALT_Equity":-0.3,"ALT_Inflation":-4},
{"date":"2011-01-24","ALT_Rates":-0.5,"ALT_Commodity":-0.8,"ALT_Credit":-0.7,"ALT_Currency":-0.5,"ALT_Equity":-0.5,"ALT_Inflation":-3},
{"date":"2011-02-24","ALT_Rates":-0.5,"ALT_Commodity":-0.5,"ALT_Credit":-0.5,"ALT_Currency":-0.5,"ALT_Equity":-0.5,"ALT_Inflation":-2.5},
{"date":"2011-03-24","ALT_Rates":-0.5,"ALT_Commodity":-0.5,"ALT_Credit":-0.7,"ALT_Currency":-1,"ALT_Equity":-5,"ALT_Inflation":-1.3},
{"date":"2011-04-24","ALT_Rates":-0.2,"ALT_Commodity":-0.5,"ALT_Credit":-0.5,"ALT_Currency":-0.3,"ALT_Equity":-0.2,"ALT_Inflation":-0.3},
{"date":"2011-05-24","ALT_Rates":-0.5,"ALT_Commodity":-1.5,"ALT_Credit":-1.5,"ALT_Currency":-0.5,"ALT_Equity":-0.5,"ALT_Inflation":-0.5},
{"date":"2011-06-24","ALT_Rates":-0.3,"ALT_Commodity":-1,"ALT_Credit":-2,"ALT_Currency":-1.5,"ALT_Equity":-1,"ALT_Inflation":-1.2},
{"date":"2011-07-24","ALT_Rates":-0.2,"ALT_Commodity":-0.8,"ALT_Credit":-1.5,"ALT_Currency":-1.5,"ALT_Equity":-1,"ALT_Inflation":-1},
{"date":"2011-08-24","ALT_Rates":-0.2,"ALT_Commodity":-0.5,"ALT_Credit":-1,"ALT_Currency":-2,"ALT_Equity":-8,"ALT_Inflation":-1.3},
{"date":"2011-09-24","ALT_Rates":-0.2,"ALT_Commodity":-0.5,"ALT_Credit":-1,"ALT_Currency":-2.5,"ALT_Equity":-4,"ALT_Inflation":-0.8},
{"date":"2011-10-24","ALT_Rates":-0.2,"ALT_Commodity":-0.5,"ALT_Credit":-1.5,"ALT_Currency":-2,"ALT_Equity":-3,"ALT_Inflation":-0.8},
{"date":"2011-11-24","ALT_Rates":-0.2,"ALT_Commodity":-0.3,"ALT_Credit":-2,"ALT_Currency":-1.5,"ALT_Equity":-1.5,"ALT_Inflation":-0.5},
{"date":"2011-12-24","ALT_Rates":-0.2,"ALT_Commodity":-0.3,"ALT_Credit":-2,"ALT_Currency":-1,"ALT_Equity":-1,"ALT_Inflation":-0.5},
{"date":"2012-01-24","ALT_Rates":-0.2,"ALT_Commodity":-0.3,"ALT_Credit":-1.5,"ALT_Currency":-0.5,"ALT_Equity":-0.2,"ALT_Inflation":-0.3},
{"date":"2012-02-24","ALT_Rates":-0.3,"ALT_Commodity":-0.2,"ALT_Credit":-1.2,"ALT_Currency":-0.5,"ALT_Equity":-0.5,"ALT_Inflation":-1.3},
{"date":"2012-03-24","ALT_Rates":-1.5,"ALT_Commodity":-0.2,"ALT_Credit":-1,"ALT_Currency":-0.3,"ALT_Equity":-0.5,"ALT_Inflation":-2.5},
{"date":"2012-04-24","ALT_Rates":-2,"ALT_Commodity":-0.5,"ALT_Credit":-2,"ALT_Currency":-0.5,"ALT_Equity":-1.5,"ALT_Inflation":-2.5},
{"date":"2012-05-24","ALT_Rates":-2,"ALT_Commodity":-2.5,"ALT_Credit":-0.8,"ALT_Currency":-0.5,"ALT_Equity":-1.2,"ALT_Inflation":-6},
{"date":"2012-06-24","ALT_Rates":-0.8,"ALT_Commodity":-3,"ALT_Credit":-1,"ALT_Currency":-1,"ALT_Equity":-1,"ALT_Inflation":-4.2},
{"date":"2012-07-24","ALT_Rates":-0.5,"ALT_Commodity":-3,"ALT_Credit":-1.5,"ALT_Currency":-1,"ALT_Equity":-1,"ALT_Inflation":-4},
{"date":"2012-08-24","ALT_Rates":-0.3,"ALT_Commodity":-3.5,"ALT_Credit":-0.7,"ALT_Currency":-1,"ALT_Equity":-1,"ALT_Inflation":-5.5},
{"date":"2012-09-24","ALT_Rates":-0.3,"ALT_Commodity":-3,"ALT_Credit":-1,"ALT_Currency":-1.5,"ALT_Equity":-0.5,"ALT_Inflation":-3.7},
{"date":"2012-10-24","ALT_Rates":-0.3,"ALT_Commodity":-3.5,"ALT_Credit":-0.7,"ALT_Currency":-1.5,"ALT_Equity":-1,"ALT_Inflation":-5},
{"date":"2012-11-24","ALT_Rates":-0.3,"ALT_Commodity":-2.5,"ALT_Credit":-0.7,"ALT_Currency":-0.5,"ALT_Equity":-0.5,"ALT_Inflation":-2.5},
{"date":"2012-12-24","ALT_Rates":-0.3,"ALT_Commodity":-2,"ALT_Credit":-0.5,"ALT_Currency":-0.5,"ALT_Equity":-0.2,"ALT_Inflation":-2.5},
{"date":"2013-01-24","ALT_Rates":-0.3,"ALT_Commodity":-2.5,"ALT_Credit":-0.5,"ALT_Currency":-0.5,"ALT_Equity":-0.2,"ALT_Inflation":-3},
{"date":"2013-02-24","ALT_Rates":-0.3,"ALT_Commodity":-1.5,"ALT_Credit":-1,"ALT_Currency":-0.5,"ALT_Equity":-0.5,"ALT_Inflation":-5.2},
{"date":"2013-03-24","ALT_Rates":-0.2,"ALT_Commodity":-2.5,"ALT_Credit":-0.3,"ALT_Currency":-0.2,"ALT_Equity":-0.3,"ALT_Inflation":-2.5},
{"date":"2013-04-24","ALT_Rates":-1.5,"ALT_Commodity":-2,"ALT_Credit":-1,"ALT_Currency":-0.5,"ALT_Equity":-0.5,"ALT_Inflation":-3.5},
{"date":"2013-05-24","ALT_Rates":-4,"ALT_Commodity":-2,"ALT_Credit":-1.5,"ALT_Currency":-2,"ALT_Equity":-2,"ALT_Inflation":-5.5},
{"date":"2013-06-24","ALT_Rates":-6,"ALT_Commodity":-1.5,"ALT_Credit":-2,"ALT_Currency":-3,"ALT_Equity":-3,"ALT_Inflation":-10.5},
{"date":"2013-07-24","ALT_Rates":-6,"ALT_Commodity":-1,"ALT_Credit":-3,"ALT_Currency":-3,"ALT_Equity":-0.5,"ALT_Inflation":-6.5},
{"date":"2013-08-24","ALT_Rates":-6,"ALT_Commodity":-1,"ALT_Credit":-3.5,"ALT_Currency":-1.5,"ALT_Equity":-0.5,"ALT_Inflation":-9.5},
{"date":"2013-09-24","ALT_Rates":-6,"ALT_Commodity":-1,"ALT_Credit":-3,"ALT_Currency":-3,"ALT_Equity":-0.5,"ALT_Inflation":-5.5},
{"date":"2013-10-24","ALT_Rates":-6.5,"ALT_Commodity":-0.8,"ALT_Credit":-2,"ALT_Currency":-3,"ALT_Equity":-0.5,"ALT_Inflation":-5.2},
{"date":"2013-11-24","ALT_Rates":-7,"ALT_Commodity":-1,"ALT_Credit":-1,"ALT_Currency":-3,"ALT_Equity":-0.5,"ALT_Inflation":-5.5},
{"date":"2013-12-24","ALT_Rates":-8,"ALT_Commodity":-1,"ALT_Credit":-1,"ALT_Currency":-2.5,"ALT_Equity":-0.5,"ALT_Inflation":-4},
{"date":"2014-01-24","ALT_Rates":-9,"ALT_Commodity":-2,"ALT_Credit":-0.5,"ALT_Currency":-1.5,"ALT_Equity":-2,"ALT_Inflation":-9},
{"date":"2014-02-24","ALT_Rates":-9,"ALT_Commodity":-2.5,"ALT_Credit":-0.5,"ALT_Currency":-1,"ALT_Equity":-1.5,"ALT_Inflation":-3.5},
{"date":"2014-03-24","ALT_Rates":-9,"ALT_Commodity":-3,"ALT_Credit":-0.3,"ALT_Currency":-0.7,"ALT_Equity":-1,"ALT_Inflation":-3},
{"date":"2014-04-24","ALT_Rates":-8.5,"ALT_Commodity":-2,"ALT_Credit":-0.3,"ALT_Currency":-0.5,"ALT_Equity":-1,"ALT_Inflation":-1.7},
{"date":"2014-05-24","ALT_Rates":-7.5,"ALT_Commodity":-1.5,"ALT_Credit":-0.2,"ALT_Currency":-0.3,"ALT_Equity":-0.3,"ALT_Inflation":-1.2},
{"date":"2014-06-24","ALT_Rates":-6.5,"ALT_Commodity":-1,"ALT_Credit":-0.2,"ALT_Currency":-0.2,"ALT_Equity":-0.2,"ALT_Inflation":-2}
]},
   "transform":[{"fold":["ALT_Rates","ALT_Commodity","ALT_Credit","ALT_Currency","ALT_Equity","ALT_Inflation"],"as":["series","value"]},{"calculate":"indexof(['ALT_Rates','ALT_Commodity','ALT_Credit','ALT_Currency','ALT_Equity','ALT_Inflation'],datum.series)","as":"ord"}],
   "mark":{"type":"area","clip":false},
   "encoding":{
    "x":{"field":"date","type":"temporal","title":null,"scale":{"type":"utc","domain":["2005-03-24","2014-06-24"],"range":[35,447]},
     "axis":{"values":[{"year":2005,"month":3,"date":24,"utc":true},{"year":2006,"month":3,"date":24,"utc":true},{"year":2007,"month":3,"date":24,"utc":true},{"year":2008,"month":3,"date":24,"utc":true},{"year":2009,"month":3,"date":24,"utc":true},{"year":2010,"month":3,"date":24,"utc":true},{"year":2011,"month":3,"date":24,"utc":true},{"year":2012,"month":3,"date":24,"utc":true},{"year":2013,"month":3,"date":24,"utc":true},{"year":2014,"month":3,"date":24,"utc":true}],"labelExpr":"utcFormat(datum.value,'%d.%m.%Y')","labelAngle":-45,"labelAlign":"right","labelBaseline":"middle","labelFontSize":9.2,"labelFont":"Lato","labelColor":"#222","labelOverlap":false,"labelFlush":false,"labelPadding":7,"ticks":false,"grid":false,"domainColor":"#b5b5b5","domainWidth":1.3,"offset":-88}},
    "y":{"field":"value","type":"quantitative","stack":"zero","title":null,"scale":{"domain":[-60,0],"range":[221,8],"nice":false},
     "axis":{"values":[0,-10,-20,-30,-40,-50,-60],"labelExpr":"datum.value+'%'","labelFontSize":9,"labelFont":"Lato","labelColor":"#222","ticks":false,"domain":false,"grid":false,"labelPadding":9,"offset":-35}},
    "color":{"field":"series","type":"nominal","scale":{"domain":["ALT_Rates","ALT_Commodity","ALT_Credit","ALT_Currency","ALT_Equity","ALT_Inflation"],"range":["#8fa8d6","#b8433f","#8fb050","#6f5a9c","#3f9db5","#e28b3c"]},
     "legend":{"orient":"none","legendX":39,"legendY":281,"direction":"horizontal","columns":6,"title":null,"symbolType":"square","symbolSize":28,"labelFontSize":8.6,"labelFont":"Lato","labelColor":"#222","columnPadding":10,"labelOffset":3}},
    "order":{"field":"ord"}}}
  ]},
 {"width":456,"height":165,"layer":[
  {"data":{"values":[{"k":"icon"}]},"mark":{"type":"point","shape":"circle","filled":true,"opacity":1,"color":"#888888","size":2124,"xOffset":-200,"yOffset":-47.5}},
  {"data":{"values":[{"k":"icon"}]},"mark":{"type":"point","shape":"circle","filled":true,"opacity":1,"color":"#bdb0a0","size":2124,"xOffset":-202,"yOffset":-49.5}},
  {"data":{"values":[{"k":"arrow"}]},"mark":{"type":"point","shape":"M-157,-28 L130,-28 L157,0 L130,28 L-157,28 Z","filled":true,"opacity":0.35,"color":"#555555","size":4,"xOffset":-5,"yOffset":-47.5}},
  {"data":{"values":[{"k":"arrow"}]},"mark":{"type":"point","shape":"M-157,-28 L130,-28 L157,0 L130,28 L-157,28 Z","filled":true,"opacity":1,"color":"#2f5583","size":4,"xOffset":-6,"yOffset":-49.5}},
  {"data":{"values":[{"t":"!"}]},"mark":{"type":"text","fontSize":38,"fontWeight":"bold","color":"#ffffff","dx":-202,"dy":-49.5,"font":"Lato"},"encoding":{"text":{"field":"t"}}},
  {"data":{"values":[{"t":"Key takeaways"}]},"mark":{"type":"text","fontSize":24,"color":"#f0f4f8","align":"left","dx":-128,"dy":-48.5,"font":"Lato"},"encoding":{"text":{"field":"t"}}},
  {"data":{"values":[{"t":"23.06.2015"}]},"mark":{"type":"text","fontSize":14,"color":"#888888","align":"left","dx":-232,"dy":139,"font":"Lato"},"encoding":{"text":{"field":"t"}}},
  {"data":{"values":[{"t":"Alpha Centauri"}]},"mark":{"type":"text","fontSize":15,"color":"#2a6496","dx":227,"dy":129,"font":"Lato"},"encoding":{"text":{"field":"t"}}},
  {"data":{"values":[{"t":"Hamburg"}]},"mark":{"type":"text","fontSize":15,"color":"#2a6496","dx":227,"dy":148.5,"font":"Lato"},"encoding":{"text":{"field":"t"}}}
 ]},
 {"width":460,"height":165,"layer":[
  {"data":{"values":[{"k":"box"}]},"mark":{"type":"point","shape":"M-230,-80 L230,-80 L230,80 L-230,80 Z","filled":true,"opacity":1,"color":"#6d6d6d","size":4,"yOffset":2.5}},
  {"data":{"values":[{"t":"bei gleicher Volatilität der einzelnen Prämien sind"}]},"mark":{"type":"text","fontSize":19,"color":"#ffffff","align":"left","dx":-209,"dy":-57.5,"font":"Lato"},"encoding":{"text":{"field":"t"}}},
  {"data":{"values":[{"t":"▪"}]},"mark":{"type":"text","fontSize":18,"color":"#ffffff","align":"left","dx":-209,"dy":-28,"font":"Lato"},"encoding":{"text":{"field":"t"}}},
  {"data":{"values":[{"t":"die Drawdowns der alternativen Prämien"}]},"mark":{"type":"text","fontSize":19,"color":"#ffffff","align":"left","dx":-176,"dy":-26.5,"font":"Lato"},"encoding":{"text":{"field":"t"}}},
  {"data":{"values":[{"t":"kleiner"}]},"mark":{"type":"text","fontSize":19,"color":"#ffffff","align":"left","dx":-176,"dy":-4.5,"font":"Lato"},"encoding":{"text":{"field":"t"}}},
  {"data":{"values":[{"t":"▪"}]},"mark":{"type":"text","fontSize":18,"color":"#ffffff","align":"left","dx":-209,"dy":24,"font":"Lato"},"encoding":{"text":{"field":"t"}}},
  {"data":{"values":[{"t":"die time to recovery bei alternativen Prämien"}]},"mark":{"type":"text","fontSize":19,"color":"#ffffff","align":"left","dx":-176,"dy":25.5,"font":"Lato"},"encoding":{"text":{"field":"t"}}},
  {"data":{"values":[{"t":"deutlich kürzer"}]},"mark":{"type":"text","fontSize":19,"color":"#ffffff","align":"left","dx":-176,"dy":47.5,"font":"Lato"},"encoding":{"text":{"field":"t"}}},
  {"data":{"values":[{"t":"20"}]},"mark":{"type":"text","fontSize":15,"color":"#888888","dx":187,"dy":139,"font":"Lato"},"encoding":{"text":{"field":"t"}}}
 ]}
]}
